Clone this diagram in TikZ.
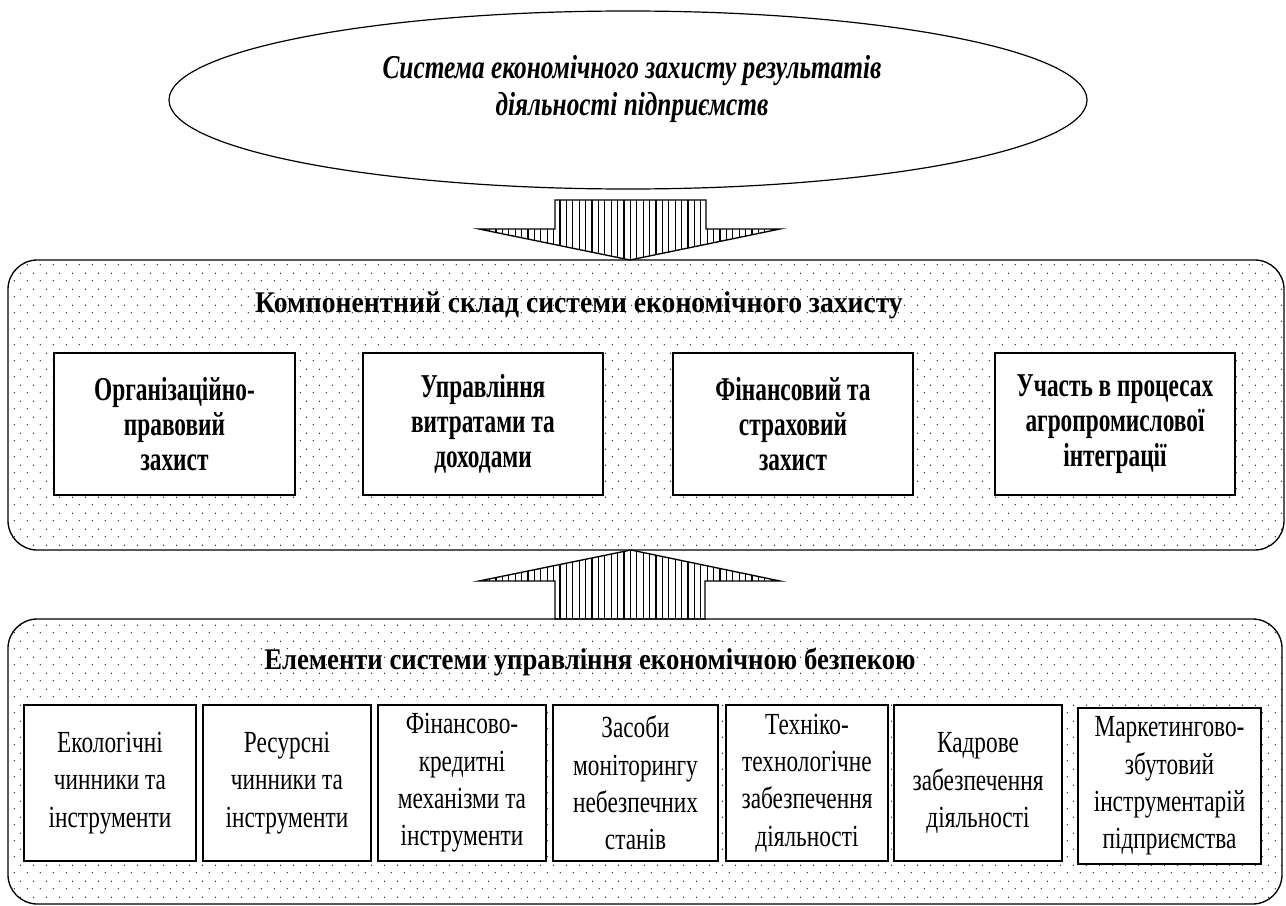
\documentclass[tikz,border=0pt]{standalone}
\usepackage{fontspec}
\setmainfont{Liberation Serif}
\newfontfamily\ttlfont[FakeStretch=0.76]{Liberation Serif}
\newfontfamily\bxfont[FakeStretch=0.70]{Liberation Serif}
\newfontfamily\hdfont[FakeStretch=0.92]{Liberation Serif}
\newfontfamily\hdfontb[FakeStretch=0.89]{Liberation Serif}
\newfontfamily\rgfont[FakeStretch=0.76]{Liberation Serif}
\usetikzlibrary{shapes.geometric,patterns,fit}
\pgfdeclarepatternformonly{dotgrid}{\pgfqpoint{0pt}{0pt}}{\pgfqpoint{9.5pt}{12pt}}{\pgfqpoint{9.5pt}{12pt}}{%
  \pgfpathcircle{\pgfqpoint{1pt}{1pt}}{0.5pt}%
  \pgfpathcircle{\pgfqpoint{5.75pt}{7pt}}{0.5pt}%
  \pgfusepath{fill}%
}
\pgfdeclarepatternformonly{vlines}{\pgfqpoint{0pt}{-0.5pt}}{\pgfqpoint{4.8pt}{4.5pt}}{\pgfqpoint{4.8pt}{4pt}}{%
  \pgfsetlinewidth{0.8pt}%
  \pgfpathmoveto{\pgfqpoint{2.4pt}{-0.5pt}}%
  \pgfpathlineto{\pgfqpoint{2.4pt}{4.5pt}}%
  \pgfusepath{stroke}%
}
\tikzset{
  container/.style={draw, line width=1pt, rounded corners=22pt, pattern=dotgrid, inner sep=0pt},
  cbox/.style={draw, line width=1.05pt, fill=white, inner sep=0pt},
  ttext/.style={inner sep=0pt, align=center, font=\bxfont\bfseries\fontsize{25}{26.3}\selectfont},
  btext/.style={inner sep=0pt, align=center, font=\rgfont\fontsize{23}{28}\selectfont},
  blockarrow/.style={draw, line width=1pt, pattern=vlines, line join=miter},
}
\begin{document}
\begin{tikzpicture}[x=0.75pt,y=-0.75pt]
\useasboundingbox (0,0) rectangle (1286,906);
% arrows
\draw[blockarrow] (555,200) -- (555,229) -- (479,229) -- (630,260) -- (780,229) -- (706,229) -- (706,200) -- cycle;
\draw[blockarrow] (555,619) -- (555,581) -- (479,581) -- (631,550) -- (780,581) -- (705,581) -- (705,619) -- cycle;
% ellipse
\node[draw, ellipse, line width=0.9pt, fill=white, minimum width=688.5pt, minimum height=133.5pt, inner sep=0pt] (ell) at (628,100) {};
\node[font=\ttlfont\bfseries\itshape\fontsize{25}{28}\selectfont, align=center] (title) at (632,89) {Система економічного захисту результатів\\діяльності підприємств};
% containers
\node[container, fit={(8,260) (1284,550)}] (comp) {};
\node[container, fit={(8,619) (1282,904)}] (elem) {};
\node[font=\hdfont\bfseries\fontsize{22.5}{24}\selectfont] (h1) at (579,305) {Компонентний склад системи економічного захисту};
\node[font=\hdfontb\bfseries\fontsize{22.5}{24}\selectfont] (h2) at (590,662) {Елементи системи управління економічною безпекою};
% top boxes
\node[cbox, fit={(54,353) (295,495)}] (t1) {};
\node[cbox, fit={(363,353) (603,495)}] (t2) {};
\node[cbox, fit={(673,353) (913,495)}] (t3) {};
\node[cbox, fit={(995,353) (1235,495)}] (t4) {};
\node[ttext] (t1t) at (t1.center) {Організаційно-\\правовий\\захист};
\node[ttext] (t2t) at (t2.center) {Управління\\витратами та\\доходами};
\node[ttext] (t3t) at (t3.center) {Фінансовий та\\страховий\\захист};
\node[ttext] (t4t) at (t4.center) {Участь в процесах\\агропромислової\\інтеграції};
% bottom boxes
\node[cbox, fit={(24,705) (196,861)}] (b1) {};
\node[cbox, fit={(203,705) (371,861)}] (b2) {};
\node[cbox, fit={(378,705) (546,861)}] (b3) {};
\node[cbox, fit={(553,705) (718,861)}] (b4) {};
\node[cbox, fit={(726,705) (888,861)}] (b5) {};
\node[cbox, fit={(894,705) (1062,861)}] (b6) {};
\node[cbox, fit={(1078,708) (1261,864)}] (b7) {};
\node[btext] (b1t) at (b1.center) {Екологічні\\чинники та\\інструменти};
\node[btext] (b2t) at (b2.center) {Ресурсні\\чинники та\\інструменти};
\node[btext] (b3t) at (b3.center) {Фінансово-\\кредитні\\механізми та\\інструменти};
\node[btext] (b4t) at (b4.center) {Засоби\\моніторингу\\небезпечних\\станів};
\node[btext] (b5t) at (b5.center) {Техніко-\\технологічне\\забезпечення\\діяльності};
\node[btext] (b6t) at (b6.center) {Кадрове\\забезпечення\\діяльності};
\node[btext] (b7t) at (b7.center) {Маркетингово-\\збутовий\\інструментарій\\підприємства};
\end{tikzpicture}
\end{document}
